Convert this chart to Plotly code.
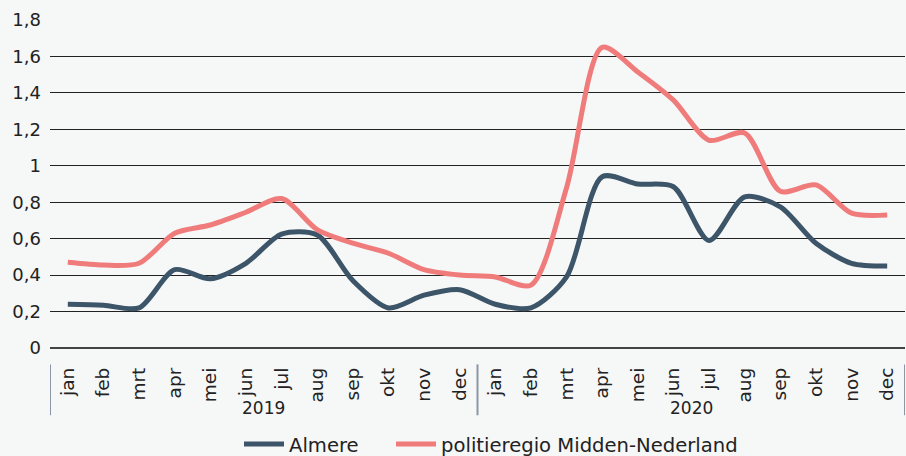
import plotly.graph_objects as go

years = ["2019", "2020"]
months = ["jan", "feb", "mrt", "apr", "mei", "jun", "jul", "aug", "sep", "okt", "nov", "dec"]

almere = [0.24, 0.235, 0.22, 0.43, 0.38, 0.465, 0.625, 0.62, 0.37, 0.22, 0.29, 0.32,
          0.24, 0.22, 0.39, 0.94, 0.90, 0.885, 0.59, 0.83, 0.775, 0.575, 0.465, 0.45]
midden_nl = [0.47, 0.455, 0.465, 0.63, 0.675, 0.745, 0.82, 0.65, 0.575, 0.52, 0.43, 0.40,
             0.39, 0.345, 0.88, 1.65, 1.515, 1.36, 1.14, 1.18, 0.86, 0.895, 0.74, 0.73]

FONT = "DejaVu Sans"
TEXT_COLOR = "#222222"
DIVIDER = "#8a96a3"

# one x position per month, labelled with the month name
x_pos = list(range(len(years) * len(months)))
x_text = months * len(years)

fig = go.Figure()
fig.add_trace(go.Scatter(x=x_pos, y=almere, name="Almere", mode="lines", legend="legend",
                         line=dict(color="#3d5568", width=5, shape="spline", smoothing=0.8)))
fig.add_trace(go.Scatter(x=x_pos, y=midden_nl, name="politieregio Midden-Nederland", mode="lines",
                         legend="legend2",
                         line=dict(color="#f07b7b", width=5, shape="spline", smoothing=0.8)))

# year labels and group dividers under the month labels
n = len(months)
for i, yr in enumerate(years):
    fig.add_annotation(x=i * n + (n - 1) / 2, y=-0.183, xref="x", yref="paper",
                       text=yr, showarrow=False, font=dict(size=17, color=TEXT_COLOR),
                       yanchor="middle")
for i in range(len(years) + 1):
    fig.add_shape(type="line", xref="x", yref="paper",
                  x0=i * n - 0.5, x1=i * n - 0.5, y0=-0.05, y1=-0.205,
                  line=dict(color=DIVIDER, width=2))

legend_style = dict(orientation="h", xref="container", yref="container", y=0.026,
                    yanchor="middle", xanchor="left", font=dict(size=19.6),
                    itemwidth=40, bgcolor="rgba(0,0,0,0)")

fig.update_layout(
    width=906, height=456,
    margin=dict(l=50, r=1, t=20, b=108),
    paper_bgcolor="#f6f7f7", plot_bgcolor="#f6f7f7",
    font=dict(family=FONT, size=18, color=TEXT_COLOR),
    separators=",.",
    showlegend=True,
    legend=dict(legend_style, x=0.2638),
    legend2=dict(legend_style, x=0.4316),
    xaxis=dict(range=[-0.5, len(x_pos) - 0.5], tickvals=x_pos, ticktext=x_text,
               tickangle=-90, showgrid=False, zeroline=False, ticks="",
               ticklabelstandoff=15, tickfont=dict(size=18.5)),
    yaxis=dict(range=[0, 1.8], dtick=0.2, showgrid=True, gridcolor="#222222", gridwidth=1.4,
               zeroline=True, zerolinecolor="#444444", zerolinewidth=2,
               ticks="", ticklabelstandoff=8, tickfont=dict(size=18)),
)

fig.write_html("out.html", config={"displayModeBar": False},
               post_script="document.body.style.margin='0';")
